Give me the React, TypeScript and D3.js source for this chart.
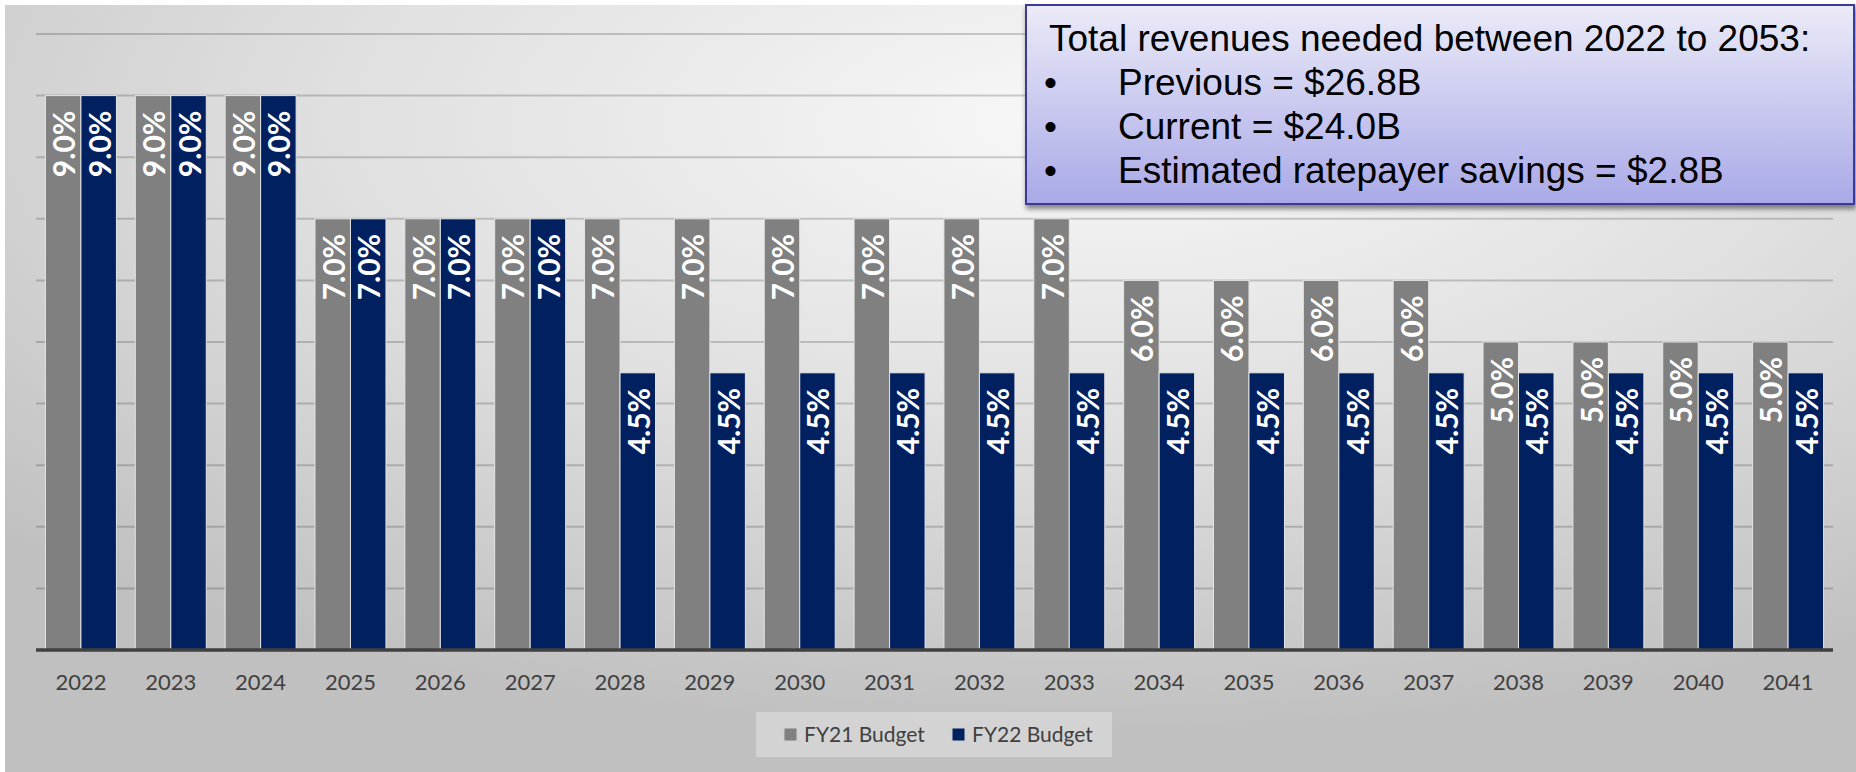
import * as d3 from "d3";

const years = [
  "2022", "2023", "2024", "2025", "2026", "2027", "2028", "2029", "2030", "2031",
  "2032", "2033", "2034", "2035", "2036", "2037", "2038", "2039", "2040", "2041",
];
const fy21Budget = [9, 9, 9, 7, 7, 7, 7, 7, 7, 7, 7, 7, 6, 6, 6, 6, 5, 5, 5, 5];
const fy22Budget = [9, 9, 9, 7, 7, 7, 4.5, 4.5, 4.5, 4.5, 4.5, 4.5, 4.5, 4.5, 4.5, 4.5, 4.5, 4.5, 4.5, 4.5];
const seriesNames = ["FY21 Budget", "FY22 Budget"];
const yTicks = [1, 2, 3, 4, 5, 6, 7, 8, 9, 10];
const calloutTitle = "Total revenues needed between 2022 to 2053:";
const calloutBullets = ["Previous = $26.8B", "Current = $24.0B", "Estimated ratepayer savings = $2.8B"];

const W = 1856;
const H = 772;
const colors = ["#808080", "#002060"];
const font = "Lato, 'Open Sans', sans-serif";
const boxFont = "'Liberation Sans', Arial, sans-serif";

const App = () => {
  const left = 36;
  const right = 1833;
  const baseY = 650;

  const x0 = d3.scaleBand<string>().domain(years).range([left, right]).paddingInner(0.21).paddingOuter(0.105);
  const x1 = d3.scaleBand<string>().domain(seriesNames).range([0, x0.bandwidth()]);
  const y = d3.scaleLinear().domain([0, 10]).range([baseY, 34]);

  const series = [fy21Budget, fy22Budget];

  return (
    <svg width={W} height={H} style={{ position: "absolute", left: 0, top: 0, display: "block" }}>
      <defs>
        <radialGradient id="bg" cx="0.58" cy="0.15" r="0.8">
          <stop offset="0" stopColor="#f8f8f8" />
          <stop offset="0.5" stopColor="#e0e0e0" />
          <stop offset="1" stopColor="#c0c0c0" />
        </radialGradient>
        <linearGradient id="box" x1="0" y1="0" x2="0" y2="1">
          <stop offset="0" stopColor="#ebebf8" />
          <stop offset="1" stopColor="#a9a9e8" />
        </linearGradient>
        <filter id="shadow" x="-5%" y="-5%" width="110%" height="120%">
          <feDropShadow dx="1" dy="4" stdDeviation="2.5" floodColor="#000" floodOpacity="0.45" />
        </filter>
      </defs>

      <rect x={0} y={0} width={W} height={H} fill="#ffffff" />
      <rect x={5} y={5} width={W - 5} height={H - 5} fill="url(#bg)" />

      {/* gridlines */}
      {yTicks.map((t) => (
        <line key={t} x1={left} x2={right} y1={y(t)} y2={y(t)} stroke="rgba(0,0,0,0.18)" strokeWidth={2} />
      ))}

      {/* bars */}
      {years.map((yr, i) => (
        <g key={yr} transform={`translate(${x0(yr)},0)`}>
          {seriesNames.map((name, s) => {
            const v = series[s][i];
            const bx = x1(name)!;
            const bw = x1.bandwidth();
            const top = y(v);
            const cx = bx + bw / 2;
            return (
              <g key={name}>
                <rect x={bx} y={top} width={bw} height={baseY - top} fill={colors[s]} stroke="#e4e4e4" strokeWidth={1} />
                <text
                  transform={`translate(${cx},${top + 15}) rotate(-90)`}
                  textAnchor="end"
                  dominantBaseline="central"
                  fill="#ffffff"
                  fontFamily={font}
                  fontWeight={700}
                  fontSize={30}
                >
                  {v.toFixed(1)}%
                </text>
              </g>
            );
          })}
        </g>
      ))}

      {/* axis */}
      <line x1={left} x2={right} y1={baseY} y2={baseY} stroke="#404040" strokeWidth={3.5} />
      {years.map((yr) => (
        <text
          key={yr}
          x={x0(yr)! + x0.bandwidth() / 2}
          y={690}
          textAnchor="middle"
          fill="#404040"
          fontFamily={font}
          fontSize={22}
        >
          {yr}
        </text>
      ))}

      {/* legend */}
      <rect x={756} y={712} width={356} height={45} fill="rgba(255,255,255,0.3)" />
      {seriesNames.map((name, s) => {
        const lx = 784 + s * 168;
        return (
          <g key={name}>
            <rect x={lx} y={728} width={13} height={13} fill={colors[s]} stroke="#d0d0d0" strokeWidth={1} />
            <text x={lx + 20} y={742} fill="#404040" fontFamily={font} fontSize={21}>
              {name}
            </text>
          </g>
        );
      })}

      {/* callout box */}
      <rect x={1026} y={5} width={828} height={199} fill="url(#box)" stroke="#3b3b96" strokeWidth={2} filter="url(#shadow)" />
      <text x={1049} y={51} fill="#000" fontFamily={boxFont} fontSize={37}>
        {calloutTitle}
      </text>
      {calloutBullets.map((b, i) => (
        <g key={b} fontFamily={boxFont} fontSize={37} fill="#000">
          <text x={1044} y={95 + i * 44}>•</text>
          <text x={1118} y={95 + i * 44}>{b}</text>
        </g>
      ))}
    </svg>
  );
};

export default App;
